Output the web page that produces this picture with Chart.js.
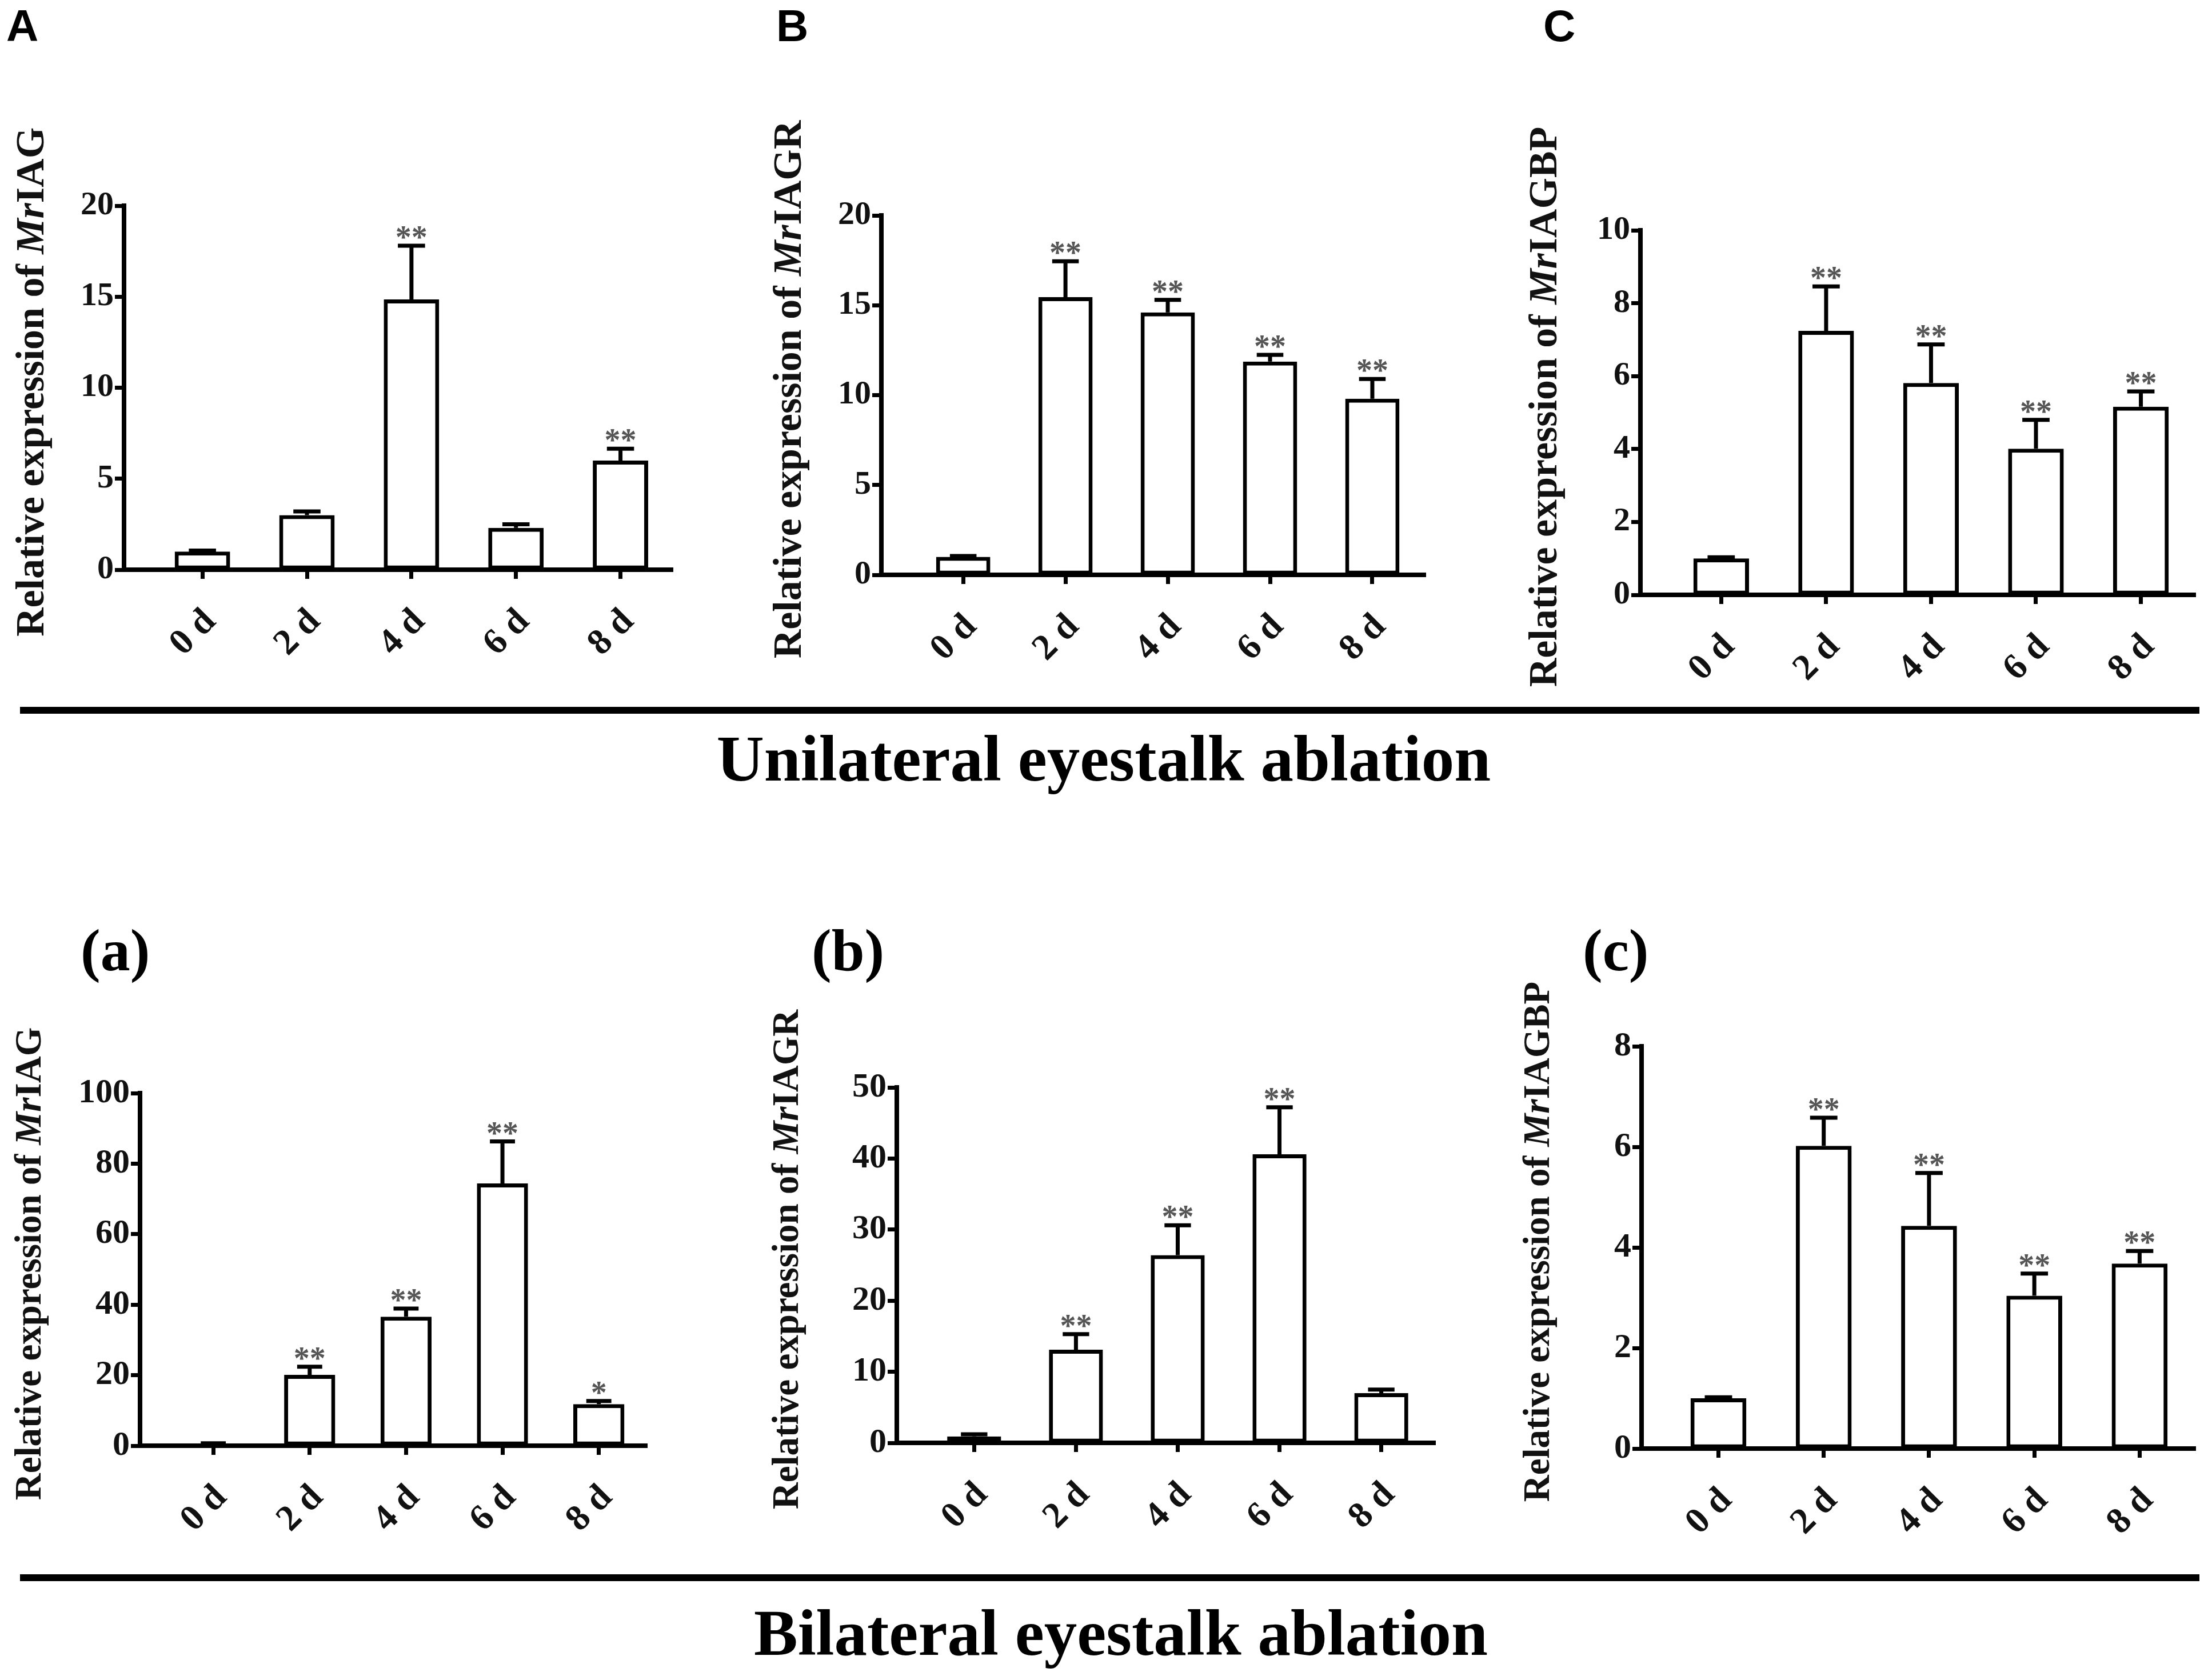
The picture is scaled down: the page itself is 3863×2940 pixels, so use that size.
<!DOCTYPE html>
<html><head><meta charset="utf-8">
<script src="https://cdn.jsdelivr.net/npm/chart.js@4.4.1/dist/chart.umd.min.js"></script>
<style>
html,body{margin:0;padding:0;background:#fff;overflow:hidden;}
body{width:3863px;height:2940px;position:relative;}
canvas{position:absolute;}
.lbl{position:absolute;line-height:1;white-space:nowrap;color:#000;}
.sans{font-family:'Liberation Sans',Arial,sans-serif;font-weight:bold;}
.serif{font-family:'Liberation Serif','Times New Roman',serif;font-weight:bold;}
.rule{position:absolute;background:#000;}
</style></head><body>
<div class="lbl sans" style="left:11px;top:6px;font-size:78px;">A</div>
<div class="lbl sans" style="left:1358px;top:6px;font-size:78px;">B</div>
<div class="lbl sans" style="left:2700px;top:6px;font-size:78px;">C</div>
<div class="lbl serif" style="left:141px;top:1611px;font-size:104px;">(a)</div>
<div class="lbl serif" style="left:1420px;top:1611px;font-size:104px;">(b)</div>
<div class="lbl serif" style="left:2769px;top:1611px;font-size:104px;">(c)</div>
<div class="rule" style="left:35px;width:3813px;top:1237px;height:12px;"></div>
<div class="rule" style="left:35px;width:3813px;top:2755px;height:12px;"></div>
<div class="lbl serif" style="left:-69px;width:4000px;text-align:center;top:1270px;font-size:115px;">Unilateral eyestalk ablation</div>
<div class="lbl serif" style="left:-39px;width:4000px;text-align:center;top:2800px;font-size:115px;">Bilateral eyestalk ablation</div>
<script>
// ---------- data ----------
const categories = ['0 d', '2 d', '4 d', '6 d', '8 d'];

const ticksA = [0, 5, 10, 15, 20];
const meanA  = [1.0, 3.0, 14.85, 2.3, 6.0];
const errA   = [0.05, 0.2, 2.95, 0.2, 0.65];
const starsA = ['', '', '**', '', '**'];

const ticksB = [0, 5, 10, 15, 20];
const meanB  = [1.0, 15.45, 14.6, 11.87, 9.8];
const errB   = [0.05, 2.0, 0.7, 0.37, 1.1];
const starsB = ['', '**', '**', '**', '**'];

const ticksC = [0, 2, 4, 6, 8, 10];
const meanC  = [1.0, 7.24, 5.81, 4.01, 5.16];
const errC   = [0.03, 1.22, 1.06, 0.79, 0.42];
const starsC = ['', '**', '**', '**', '**'];

const ticksa = [0, 20, 40, 60, 80, 100];
const meana  = [0.5, 20.1, 36.6, 74.4, 11.8];
const erra   = [0.2, 2.3, 2.3, 11.9, 0.9];
const starsa = ['', '**', '**', '**', '*'];

const ticksb = [0, 10, 20, 30, 40, 50];
const meanb  = [0.9, 13.1, 26.4, 40.6, 7.0];
const errb   = [0.3, 2.2, 4.2, 6.6, 0.5];
const starsb = ['', '**', '**', '**', ''];

const ticksc = [0, 2, 4, 6, 8];
const meanc  = [1.0, 6.02, 4.43, 3.04, 3.68];
const errc   = [0.02, 0.56, 1.05, 0.44, 0.25];
const starsc = ['', '**', '**', '**', '**'];

const titleIAG   = ['Relative expression of ', 'Mr', 'IAG'];
const titleIAGR  = ['Relative expression of ', 'Mr', 'IAGR'];
const titleIAGBP = ['Relative expression of ', 'Mr', 'IAGBP'];

// ---------- layout ----------
const panels = [
  {id:'A', ticks:ticksA, mean:meanA, err:errA, stars:starsA, title:titleIAG,   L:217,  R:1177, T:360,  B:997,  xmin:-0.75, xmax:4.5,  tOff:159, tSize:70, kSize:58},
  {id:'B', ticks:ticksB, mean:meanB, err:errB, stars:starsB, title:titleIAGR,  L:1542, R:2494, T:377,  B:1006, xmin:-0.8,  xmax:4.52, tOff:159, tSize:70, kSize:58},
  {id:'C', ticks:ticksC, mean:meanC, err:errC, stars:starsC, title:titleIAGBP, L:2870, R:3841, T:403,  B:1041, xmin:-0.77, xmax:4.52, tOff:165, tSize:70, kSize:58},
  {id:'a', ticks:ticksa, mean:meana, err:erra, stars:starsa, title:titleIAG,   L:245,  R:1132, T:1913, B:2530, xmin:-0.76, xmax:4.5,  tOff:191, tSize:65, kSize:60},
  {id:'b', ticks:ticksb, mean:meanb, err:errb, stars:starsb, title:titleIAGR,  L:1569, R:2511, T:1903, B:2525, xmin:-0.76, xmax:4.53, tOff:190, tSize:65, kSize:60},
  {id:'c', ticks:ticksc, mean:meanc, err:errc, stars:starsc, title:titleIAGBP, L:2872, R:3841, T:1831, B:2535, xmin:-0.73, xmax:4.53, tOff:179, tSize:65, kSize:60}
];

const SERIF = '"Liberation Serif", "Times New Roman", serif';

function overlay(p) {
  return {
    id: 'ov' + p.id,
    afterDatasetsDraw(chart) {
      const ctx = chart.ctx, xs = chart.scales.x, ys = chart.scales.y, ca = chart.chartArea;
      const unit = xs.getPixelForValue(1) - xs.getPixelForValue(0);
      ctx.save();
      ctx.strokeStyle = '#000';
      ctx.lineWidth = 7;
      ctx.lineCap = 'butt';
      p.mean.forEach((m, i) => {
        const x = xs.getPixelForValue(i);
        const y0 = ys.getPixelForValue(m);
        const y1 = ys.getPixelForValue(m + p.err[i]);
        ctx.beginPath();
        ctx.moveTo(x, y0); ctx.lineTo(x, y1);
        ctx.moveTo(x - unit * 0.13, y1); ctx.lineTo(x + unit * 0.13, y1);
        ctx.stroke();
        if (p.stars[i]) {
          ctx.fillStyle = '#555';
          ctx.font = 'bold 56px ' + SERIF;
          ctx.textAlign = 'center';
          ctx.textBaseline = 'alphabetic';
          ctx.fillText(p.stars[i], x, y1 + 4);
        }
      });
      // rotated y-axis title with italic "Mr"
      ctx.translate(ca.left - p.tOff, (ca.top + ca.bottom) / 2 - 10);
      ctx.rotate(-Math.PI / 2);
      const fonts = p.title.map((s, k) => (k === 1 ? 'italic ' : '') + 'bold ' + p.tSize + 'px ' + SERIF);
      let total = 0;
      const widths = p.title.map((s, k) => { ctx.font = fonts[k]; const w = ctx.measureText(s).width; total += w; return w; });
      let x = -total / 2;
      ctx.fillStyle = '#111';
      ctx.textAlign = 'left';
      ctx.textBaseline = 'middle';
      p.title.forEach((s, k) => { ctx.font = fonts[k]; ctx.fillText(s, x, 0); x += widths[k]; });
      ctx.restore();
    }
  };
}

function makePanel(p) {
  const WY = 240, PT = 240, PR = 22, HX = 300;
  const c = document.createElement('canvas');
  const w = (p.R - p.L) + WY + PR, h = (p.B - p.T) + PT + HX;
  c.width = w; c.height = h;
  c.style.left = (p.L - WY) + 'px';
  c.style.top = (p.T - PT) + 'px';
  c.style.width = w + 'px'; c.style.height = h + 'px';
  document.body.appendChild(c);
  const tickFont = {family: SERIF, weight: 'bold', size: p.kSize};
  const xTickFont = {family: SERIF, weight: 'bold', size: 64};
  const axisBorder = {display: true, color: '#000', width: 8};
  const grid = {display: true, drawOnChartArea: false, drawTicks: true, tickLength: 16, tickWidth: 7, tickColor: '#000', offset: false};
  new Chart(c, {
    type: 'bar',
    data: {
      datasets: [{
        data: p.mean.map((v, i) => ({x: i, y: v})),
        backgroundColor: '#fff',
        borderColor: '#000',
        borderWidth: 7,
        borderSkipped: false,
        categoryPercentage: 1,
        barPercentage: 0.53
      }]
    },
    options: {
      responsive: false,
      animation: false,
      devicePixelRatio: 1,
      layout: {padding: {top: PT, right: PR, left: 0, bottom: 0}},
      plugins: {legend: {display: false}, tooltip: {enabled: false}},
      scales: {
        x: {
          type: 'linear', min: p.xmin, max: p.xmax, offset: false,
          grid: grid, border: axisBorder,
          ticks: {
            stepSize: 1, includeBounds: false, autoSkip: false,
            maxRotation: 45, minRotation: 45, padding: 38, labelOffset: 14,
            color: '#111', font: xTickFont,
            callback: v => categories[v] !== undefined ? categories[v] : ''
          },
          afterFit: s => { s.height = HX; s.paddingLeft = 0; s.paddingRight = 0; }
        },
        y: {
          min: p.ticks[0], max: p.ticks[p.ticks.length - 1],
          grid: grid, border: axisBorder,
          ticks: {stepSize: p.ticks[1] - p.ticks[0], padding: 2, color: '#111', font: tickFont},
          afterFit: s => { s.width = WY; s.paddingTop = 0; s.paddingBottom = 0; }
        }
      }
    },
    plugins: [overlay(p)]
  });
}

panels.forEach(makePanel);
</script>
</body></html>
